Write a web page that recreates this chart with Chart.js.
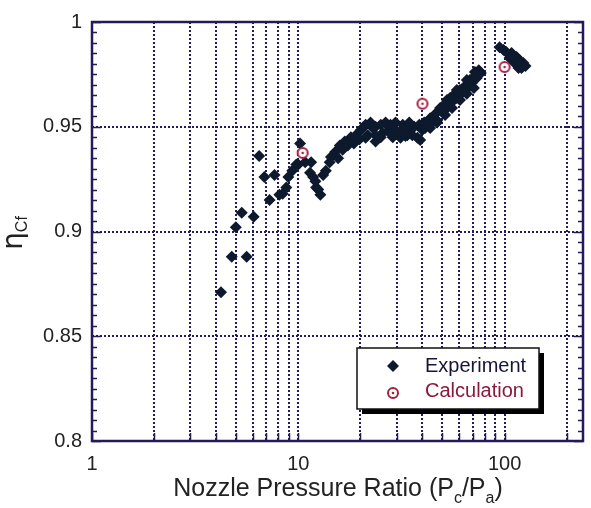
<!DOCTYPE html>
<html>
<head>
<meta charset="utf-8">
<script src="https://cdn.jsdelivr.net/npm/chart.js@4.4.0/dist/chart.umd.min.js"></script>
<style>
    html, body { margin: 0; padding: 0; background: #fff; }
    #wrap { width: 591px; height: 508px; }
</style>
</head>
<body>
<div id="wrap"><canvas id="chart"></canvas></div>
<script>
// Experiment points (nozzle pressure ratio, efficiency)
const expX = [4.22, 4.76, 5.62, 4.98, 5.32, 6.08, 6.46, 6.85, 7.67, 7.26, 8.10, 8.4, 8.75, 8.95, 9.35, 9.78, 10.2,
    10.0, 10.8, 11.55, 11.4, 11.8, 12.1, 12.2, 12.8, 12.5, 13.2, 13.6, 14.2, 14.4, 15.1, 15.9, 16.8, 18.0, 19.0, 20.1,
    21.2, 22.4, 23.7, 23.7, 25.1, 26.5, 28.0, 29.3, 30.9, 32.7, 34.5, 36.5, 38.6, 40.8,
    15.6, 16.4, 19.4, 21.7, 23.7, 25.6, 27.1, 23.0, 20.5,
    17.4, 18.6, 19.8, 21.2, 25.1, 28.7, 31.3, 33.1, 29.6, 32.1, 34.5,
    33.8, 35.7, 37.8, 39.0, 39.9, 41.2, 42.2, 43.6, 44.6, 46.0, 47.1, 48.7, 49.8, 51.5, 52.6, 54.4, 55.6, 57.5, 58.7,
    60.8, 62.1, 64.3, 65.6, 67.9, 69.4, 71.8, 73.3, 75.0, 76.7,
    43.6, 47.1, 51.5, 55.6, 60.8, 65.6, 71.0, 52.6, 58.7, 65.6, 71.8,
    94.6, 98.9, 105.7, 108.1, 111.7, 114.3, 116.8, 118.1, 120.8, 123.4,
    101.9, 110.0, 116.8, 126.3];
const expY = [0.871, 0.888, 0.888, 0.902, 0.909, 0.907, 0.936, 0.926, 0.927, 0.915, 0.9175, 0.918, 0.921, 0.926, 0.929, 0.932, 0.942,
    0.932, 0.933, 0.933, 0.928, 0.926, 0.924, 0.921, 0.9175, 0.920, 0.927, 0.929, 0.933, 0.9356, 0.938, 0.941, 0.943, 0.945, 0.946, 0.9485,
    0.951, 0.952, 0.943, 0.950, 0.951, 0.952, 0.951, 0.9485, 0.9475, 0.9485, 0.9494, 0.950, 0.951, 0.952,
    0.935, 0.939, 0.944, 0.946, 0.946, 0.947, 0.948, 0.9494, 0.9494,
    0.941, 0.942, 0.944, 0.9447, 0.945, 0.945, 0.9447, 0.9456, 0.952, 0.951, 0.952,
    0.946, 0.946, 0.9447, 0.9437, 0.9485, 0.9494, 0.9513, 0.954, 0.952, 0.956, 0.953, 0.959, 0.957, 0.961, 0.959, 0.9637, 0.9618, 0.9657, 0.9637,
    0.9676, 0.9661, 0.9695, 0.968, 0.9723, 0.9709, 0.9742, 0.9733, 0.977, 0.9757,
    0.9494, 0.952, 0.9556, 0.959, 0.9628, 0.9657, 0.9685, 0.9628, 0.9676, 0.9723, 0.9761,
    0.988, 0.9866, 0.9828, 0.9852, 0.9804, 0.9833, 0.978, 0.9819, 0.978, 0.9804,
    0.9857, 0.9828, 0.981, 0.979];

// Calculation points
const calcX = [10.5, 40, 100];
const calcY = [0.9375, 0.961, 0.9785];

// Axis ticks
const xTicks = [1, 2, 3, 4, 5, 6, 7, 8, 9, 10, 20, 30, 40, 50, 60, 70, 80, 90, 100, 200];
const xLabels = [1, 10, 100];
const yTicks = [0.8, 0.85, 0.9, 0.95, 1];

const INK = '#231a5c';
const DOT = '#0d1a2e';
const RED = '#a3203f';
const SANS = '"Liberation Sans", Arial, sans-serif';

// Ring with a centre dot, used for the calculation markers
function makeRing(size) {
    const c = document.createElement('canvas');
    c.width = size; c.height = size;
    const g = c.getContext('2d');
    const m = size / 2;
    g.fillStyle = '#fff';
    g.strokeStyle = RED;
    g.lineWidth = 2;
    g.beginPath(); g.arc(m, m, m - 2, 0, Math.PI * 2); g.fill(); g.stroke();
    g.fillStyle = RED;
    g.beginPath(); g.arc(m, m, 1.3, 0, Math.PI * 2); g.fill();
    return c;
}
const ring = makeRing(14);

const expData = expX.map((x, i) => ({ x: x, y: expY[i] }));
const calcData = calcX.map((x, i) => ({ x: x, y: calcY[i] }));

// Frame, inward ticks, axis titles and legend box
const decorations = {
    id: 'decorations',
    afterDraw(chart) {
        const ctx = chart.ctx;
        const a = chart.chartArea;
        const xs = chart.scales.x, ys = chart.scales.y;
        ctx.save();

        // inward tick marks
        ctx.strokeStyle = INK;
        ctx.lineWidth = 1.5;
        ctx.beginPath();
        for (let k = 0; k <= 40; k++) {
            const v = 0.8 + k * 0.005;
            const py = Math.round(ys.getPixelForValue(v)) + 0.5;
            const len = (k % 10 === 0) ? 9 : 5;
            ctx.moveTo(a.left, py); ctx.lineTo(a.left + len, py);
            ctx.moveTo(a.right, py); ctx.lineTo(a.right - len, py);
        }
        xTicks.forEach(v => {
            const px = Math.round(xs.getPixelForValue(v)) + 0.5;
            ctx.moveTo(px, a.bottom); ctx.lineTo(px, a.bottom - 8);
        });
        ctx.stroke();

        // frame
        ctx.lineWidth = 2.5;
        ctx.strokeRect(a.left, a.top, a.right - a.left, a.bottom - a.top);

        // x title with subscripts
        const big = '25px ' + SANS;
        const small = '16px ' + SANS;
        const parts = [['Nozzle Pressure Ratio (P', big, 0], ['c', small, 7], ['/P', big, 0], ['a', small, 7], [')', big, 0]];
        let total = 0;
        parts.forEach(p => { ctx.font = p[1]; total += ctx.measureText(p[0]).width; });
        let cx = 338 - total / 2;
        ctx.fillStyle = '#222';
        ctx.textBaseline = 'alphabetic';
        ctx.textAlign = 'left';
        parts.forEach(p => {
            ctx.font = p[1];
            ctx.fillText(p[0], cx, 496 + p[2]);
            cx += ctx.measureText(p[0]).width;
        });

        // y title
        ctx.save();
        ctx.translate(22, 233);
        ctx.rotate(-Math.PI / 2);
        const eta = '28px "DejaVu Sans", sans-serif';
        ctx.font = eta;
        const w1 = ctx.measureText('\u03b7').width;
        ctx.font = small;
        const w2 = ctx.measureText('Cf').width;
        const ty = -(w1 + w2) / 2;
        ctx.font = eta;
        ctx.fillText('\u03b7', ty, 0);
        ctx.font = small;
        ctx.fillText('Cf', ty + w1, 5);
        ctx.restore();

        // legend box with shadow
        const lx = 357, ly = 348, lw = 182, lh = 61;
        ctx.fillStyle = '#000';
        ctx.fillRect(lx + 5, ly + 5, lw, lh);
        ctx.fillStyle = '#fff';
        ctx.fillRect(lx, ly, lw, lh);
        ctx.strokeStyle = '#111';
        ctx.lineWidth = 1.5;
        ctx.strokeRect(lx, ly, lw, lh);

        // legend entries
        ctx.fillStyle = DOT;
        ctx.beginPath();
        ctx.moveTo(393, 360); ctx.lineTo(399, 366); ctx.lineTo(393, 372); ctx.lineTo(387, 366);
        ctx.closePath(); ctx.fill();
        ctx.drawImage(ring, 386, 386);

        ctx.font = '20px ' + SANS;
        ctx.textBaseline = 'middle';
        ctx.fillStyle = '#15153a';
        ctx.fillText('Experiment', 425, 366);
        ctx.fillStyle = '#8b1a3a';
        ctx.fillText('Calculation', 425, 391);

        ctx.restore();
    }
};

new Chart(document.getElementById('chart'), {
    type: 'scatter',
    data: {
        datasets: [
            {
                label: 'Calculation',
                data: calcData,
                pointStyle: ring,
                pointRadius: 7,
                pointHoverRadius: 7
            },
            {
                label: 'Experiment',
                data: expData,
                pointStyle: 'rectRot',
                pointRadius: 6,
                pointHoverRadius: 6,
                backgroundColor: DOT,
                borderColor: DOT,
                borderWidth: 0
            }
        ]
    },
    options: {
        responsive: true,
        maintainAspectRatio: false,
        animation: false,
        events: [],
        layout: { padding: { top: 22, right: 4, left: 0, bottom: 0 } },
        plugins: {
            legend: { display: false },
            tooltip: { enabled: false }
        },
        scales: {
            x: {
                type: 'logarithmic',
                min: 1,
                max: 240,
                afterBuildTicks: s => { s.ticks = xTicks.map(v => ({ value: v })); },
                afterFit: s => { s.height = 67; },
                ticks: {
                    autoSkip: false,
                    maxRotation: 0,
                    padding: 11,
                    color: '#222',
                    font: { family: SANS, size: 20 },
                    callback: v => xLabels.includes(v) ? String(v) : ''
                },
                grid: { color: INK, lineWidth: 2, drawTicks: false },
                border: { display: false, dash: [2, 2] }
            },
            y: {
                type: 'linear',
                min: 0.8,
                max: 1,
                afterBuildTicks: s => { s.ticks = yTicks.map(v => ({ value: v })); },
                afterFit: s => { s.width = 92; },
                ticks: {
                    padding: 10,
                    color: '#222',
                    font: { family: SANS, size: 20 },
                    callback: v => String(Math.round(v * 100) / 100)
                },
                grid: { color: INK, lineWidth: 2, drawTicks: false },
                border: { display: false, dash: [2, 2] }
            }
        }
    },
    plugins: [decorations]
});
</script>
</body>
</html>
